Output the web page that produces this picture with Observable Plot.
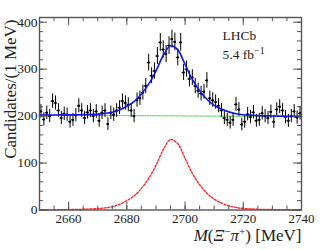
<!DOCTYPE html>
<html><head><meta charset="utf-8">
<script src="https://cdn.jsdelivr.net/npm/d3@7"></script>
<script src="https://cdn.jsdelivr.net/npm/@observablehq/plot@0.6"></script>
<style>html,body{margin:0;padding:0;background:#fff}#chart svg{display:block}</style>
</head><body><div id="chart"></div>
<script>
// Data: candidates per 1 MeV bin, bins from 2650 to 2740 MeV
const binStart = 2650;
const counts = [
 210,193,207,200,232,228,212,196,205,203,
 188,192,202,222,212,196,208,212,200,210,
 190,207,212,183,207,203,212,218,232,228,
 224,212,200,234,238,250,264,314,286,296,
 328,357,342,332,350,364,358,325,357,293,
 300,279,282,264,254,248,252,276,238,234,
 230,222,212,196,192,186,192,225,214,182,
 188,204,198,208,190,192,206,200,196,209,
 188,214,220,212,198,190,200,210,197,206
];
// Fit curves read at fixed mass points
const fitMass = [2650,2652.5,2655,2657.5,2660,2662.5,2665,2667.5,2670,2672.5,2675,2677.5,2680,2682.5,2685,2687.5,2690,2692.5,2695,2697.5,2700,2702.5,2705,2707.5,2710,2712.5,2715,2717.5,2720,2722.5,2725,2727.5,2730,2732.5,2735,2737.5,2740];
const fitSignal = [0.3,0.4,0.5,0.7,0.9,1.2,1.6,2.2,3,4.5,7,12,20,30,46,67,95,128,150,141,110,78,54,36,23,15,9,5.5,3.3,2.3,1.6,1.2,1,0.8,0.6,0.5,0.4];
const fitTotal = [202.3,202.3,202.3,202.5,202.6,202.8,203.1,203.6,204.3,205.8,208.2,213,221,231,247,268,296,329,350,341,310,278,254,236,223,215,209,205,203,202,201,200.6,200.3,200,199.8,199.6,199.4];
const bkgMass = [2650, 2740];
const bkgValue = [202, 199];
const xMajor = [2660,2680,2700,2720,2740];
const xMinor = d3.range(2650, 2741, 5);
const yMajor = [0,100,200,300,400];
const yMinor = d3.range(0, 411, 20);

const W = 324, H = 250, mL = 39, mR = 23, mT = 17, mB = 40.5;
const iw = W - mL - mR, ih = H - mT - mB;
const data = counts.map((n, i) => ({x: binStart + 0.5 + i, n, e: Math.sqrt(n)}));
const sig = fitMass.map((x, i) => ({x, y: fitSignal[i]}));
const tot = fitMass.map((x, i) => ({x, y: fitTotal[i]}));
const bkg = bkgMass.map((x, i) => ({x, y: bkgValue[i]}));
const frameCol = "#555";

const chart = Plot.plot({
  width: W, height: H,
  marginLeft: mL, marginRight: mR, marginTop: mT, marginBottom: mB,
  style: {fontFamily: "'Liberation Serif', 'Times New Roman', serif", fontSize: "13.5px", color: "#222", background: "#fff"},
  x: {domain: [2650, 2740], label: null},
  y: {domain: [0, 410], label: null},
  marks: [
    Plot.line(bkg, {x: "x", y: "y", stroke: "#3fd03f", strokeWidth: 1, strokeDasharray: "1.2,1.2"}),
    Plot.line(sig, {x: "x", y: "y", stroke: "#ff1a1a", strokeWidth: 1.3, strokeDasharray: "2,1.6", curve: "catmull-rom"}),
    Plot.ruleX(data, {x: "x", y1: d => d.n - d.e, y2: d => d.n + d.e, stroke: "#000", strokeWidth: 1}),
    Plot.ruleY(data, {y: "n", x1: d => d.x - 0.5, x2: d => d.x + 0.5, stroke: "#000", strokeWidth: 1}),
    Plot.dot(data, {x: "x", y: "n", r: 1.2, fill: "#000"}),
    Plot.line(tot, {x: "x", y: "y", stroke: "#1414f0", strokeWidth: 1.6, curve: "catmull-rom"}),
    // inward ticks
    Plot.tickX(xMinor, {x: d => d, insetTop: ih - 4, stroke: frameCol}),
    Plot.tickX(xMajor, {x: d => d, insetTop: ih - 8, stroke: frameCol}),
    Plot.tickX(xMinor, {x: d => d, insetBottom: ih - 4, stroke: frameCol}),
    Plot.tickX(xMajor, {x: d => d, insetBottom: ih - 8, stroke: frameCol}),
    Plot.tickY(yMinor, {y: d => d, insetRight: iw - 4, stroke: frameCol}),
    Plot.tickY(yMajor, {y: d => d, insetRight: iw - 8, stroke: frameCol}),
    Plot.tickY(yMinor, {y: d => d, insetLeft: iw - 4, stroke: frameCol}),
    Plot.tickY(yMajor, {y: d => d, insetLeft: iw - 8, stroke: frameCol}),
    Plot.frame({stroke: frameCol, strokeWidth: 1.4}),
    Plot.axisX(xMajor, {tickSize: 0, tickPadding: 4, label: null, fill: "#222", tickFormat: "d", fontSize: 13}),
    Plot.axisY(yMajor, {tickSize: 0, tickPadding: 2, label: null, fill: "#222", tickFormat: "d", fontSize: 13.5}),
    Plot.text(["Candidates/(1 MeV)"], {frameAnchor: "top-left", dx: -24, dy: 2, rotate: -90, textAnchor: "end", lineAnchor: "bottom", fontSize: 17, fill: "#222"}),
    Plot.text(["XLABEL"], {frameAnchor: "bottom-right", dy: 31, textAnchor: "end", lineAnchor: "bottom", fontSize: 17, fill: "#222"}),
    Plot.text(["LHCb"], {frameAnchor: "top-right", dx: -79, dy: 22, textAnchor: "start", lineAnchor: "bottom", fontSize: 13.5, fill: "#222"}),
    Plot.text(["FBLABEL"], {frameAnchor: "top-right", dx: -79, dy: 41, textAnchor: "start", lineAnchor: "bottom", fontSize: 13.5, fill: "#222"})
  ]
});
document.getElementById("chart").appendChild(chart);
const svg = d3.select(chart);
svg.selectAll("text").filter(function() { return this.textContent === "XLABEL"; })
  .html('<tspan font-style="italic">M</tspan>(<tspan font-style="italic">Ξ</tspan><tspan font-size="11" dy="-6">−</tspan><tspan font-style="italic" dy="6">π</tspan><tspan font-size="11" dy="-6">+</tspan><tspan dy="6">) [MeV]</tspan>');
svg.selectAll("text").filter(function() { return this.textContent === "FBLABEL"; })
  .html('5.4 fb<tspan font-size="10" dy="-5">−1</tspan>');
</script>
</body></html>
